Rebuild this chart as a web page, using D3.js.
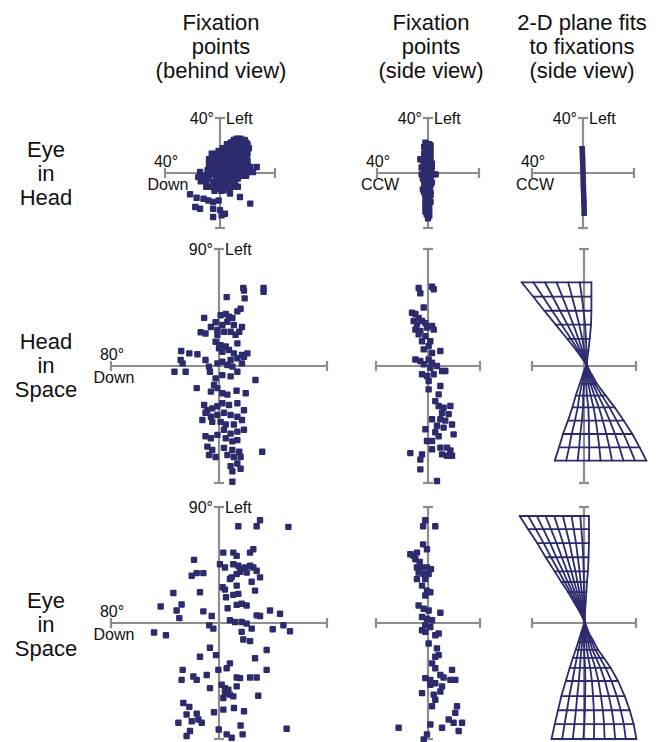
<!DOCTYPE html>
<html>
<head>
<meta charset="utf-8">
<script src="https://cdn.jsdelivr.net/npm/d3@7"></script>
<style>
  html, body { margin: 0; padding: 0; background: #fff; }
  svg { display: block; font-family: "Liberation Sans", Arial, Helvetica, sans-serif; }
</style>
</head>
<body>
<svg id="chart" width="664" height="742"></svg>
<script>
// ---------- titles ----------
const columnTitles = [
  ["Fixation", "points", "(behind view)"],
  ["Fixation", "points", "(side view)"],
  ["2-D plane fits", "to fixations", "(side view)"]
];
const rowTitles = [
  ["Eye", "in", "Head"],
  ["Head", "in", "Space"],
  ["Eye", "in", "Space"]
];

// ---------- axis ranges (deg) ----------
const rowVerticalRange = [40, 90, 90];          // "Left" axis half-range per row
const behindHorizontalRange = [40, 80, 80];     // "Down" axis half-range per row
const sideHorizontalRange = [40, 40, 40];       // torsion (CCW) half-range per row

// ---------- fixation points: [horizontal, vertical] in deg ----------
const eyeHeadBehind = [
  [10,24],[13,24],[17,22.5],[20,21],[16,19],[11,20],[7,19],[5,16.5],[12,16.5],[18,16.5],[8.5,14],
  [-5,11.6],[-1,13],[2.4,14],[6,11.6],[9.7,10.4],[13,11.6],[-7,8],[-3.6,6.8],[1.2,6.8],[5,5.6],
  [9.7,5.6],[14.5,6.8],[18,8],[-2.4,2],[2.4,0.7],[7.3,2],[12,0.7],[15.8,3],[22,4.4],[26.7,4.4],
  [24,0.7],[20.6,0.7],
  [-14.5,0.7],[-15.8,-3],[-12,-5.3],[-8.5,-4],[-5,-6.5],[0,-5.3],[5,-7.8],[9.7,-9],[13,-10],
  [-7.3,-10],[-2.4,-11.4],[2.4,-12.6],
  [-21.8,-15.5],[-17,-18],[-12,-18.7],[-8.5,-20],[-5,-21],[-1,-20],[-18,-24.7],[-14.5,-26],
  [-5,-26],[0,-27],[3.6,-29.6],[-5,-32],[1.2,-30.8],[22,-22.3],[14.5,-17.5],[7.3,-15],
  [-3,10],[0,9],[3,9],[6,8],[9,8],[12,8],[15,9],[-4,4],[-1,4],[2,4],[5,3],[8,4],[11,3],[14,3],
  [17,4],[-5,-1],[-2,-2],[1,-2],[4,-2],[7,-1],[10,-3],[13,-4],[16,-2],[3,-9],[6,-6],[-3,-8],
  [0,-9],[4,12],[7,15],[10,13],[14,14],[3,17],[5,21],[8,22],[12,21],[15,22],[17,19],[11,18],
  [-1,16],[1,11],[19,12],[20,9],[-6,2],[-9,-1],[-11,-3],
  [8,22],[11,22],[14,22],[17,22],[19,22],[2,18],[5,18],[9,18],[13,18],[15,18],[19,18],[21,18],
  [-6,14],[-3,14],[0,14],[5,14],[11,14],[16,14],[20,14],[-8,10],[-5,10],[-1,10],[4,10],[7,10],
  [11,10],[16,10],[19,10],[-8,6],[-6,6],[-1,6],[3,6],[7,6],[12,6],[16,6],[20,6],[-9,2],[-4,2],
  [0,2],[4,2],[9,2],[14,2],[18,2],[-12,-2],[-8,-2],[-3,-2],[2,-2],[6,-2],[11,-2],[14,-2],[19,-2],
  [-14,-6],[-10,-6],[-2,-6],[3,-6],[8,-6],[11,-6],[-10,-10],[-5,-10],[0,-10],[5,-10],[11,-10],
  [-4,-13],[1,-13],[7,-13],[12,25],[15,25],[18,24]
];
const eyeHeadSide = [
  [-2,22],[1,21],[-3,19],[0,18],[2,17],[-1,16],[-3,14],[1,13],[-2,12],[0,11],[2,10],[-4,9],
  [-1,8],[1,7],[-2,6],[0,5],[3,4],[-3,3],[-1,2],[1,1],[-2,0],[4,-1],[6,-1],[-5,-1],[0,-2],
  [-2,-3],[2,-4],[-1,-5],[1,-6],[-3,-7],[0,-8],[2,-9],[-2,-10],[0,-11],[1,-12],[-1,-13],
  [-3,-14],[0,-15],[2,-16],[-1,-17],[1,-18],[-2,-19],[0,-20],[-1,-22],[1,-23],[0,-24],
  [-2,-25],[1,-27],[0,-29],[-1,-30],[1,-31],[0,-33],[-6,10],[-5,4],[-4,-12],
  [2,20],[-2,15],[2,13],[-3,11],[3,7],[-3,5],[2,2],[-4,-4],[3,-7],[-3,-11],[2,-14],[-2,-16],
  [2,-21],[-2,-22],[-2,-28]
];
const headSpaceBehind = [
  [18,60],[18.5,58],[19,52],[33,60],[33,57],[5.7,53],[16,44],[13.6,42],
  [-11,37],[-2.5,33.6],[1.2,39],[5,40],[7.4,38],[9.9,37],[6.2,34],[2.5,31.5],[11,31.5],[17,30],
  [15,26.4],[-13.6,26],[-10,25],[-6,30],[-1.2,27.7],[3.7,26.4],[8.6,26.4],[12.3,24],[-1.2,24],
  [-2.5,18.7],[1.2,16],[5,15],[0,13.6],[7.4,12.3],[2.5,11],[13.6,17.4],[17,8.5],[21,9.7],[11,9.7],
  [-28,11.5],[-22,9.7],[-28.4,4.6],[-27,2],[-33,-4.4],[-24.7,-4.4],[-16,9],[-10,4.6],[-7.4,-0.5],
  [-6.7,-4.4],[-1.2,2],[2.5,3.3],[6.2,0.8],[8.6,4.6],[13.6,6],[9.9,-0.5],[13.6,-4.4],[17,2],
  [18.5,7],[27,-10.8],[8.6,-8],[2.5,-7],[-2.5,-9.5],
  [-16.5,-17],[-3.7,-14.6],[-1.2,-17],[-6,-19.7],[13,-19],[2.5,-21],[6.2,-22],[19.8,-21],
  [-11,-30],[-8.6,-34],[-5,-32.6],[-1.2,-31],[2.5,-28.7],[7.4,-30],[13.6,-28.7],[18.5,-34],
  [-10,-36],[-6,-39],[-1.2,-37.7],[3.7,-36],[8.6,-37.7],[13.6,-39],[-12.3,-41.5],[-5,-43],
  [1.2,-43],[5,-45],[11,-45],[17,-41.5],[18.5,-49],[3.7,-49],[8.6,-52],[13.6,-50.5],[-1.2,-53],
  [-10,-54],[-6,-55.6],[5,-55.6],[9.9,-58],[13.6,-57],[-8.6,-62],[-5,-64.6],[3.7,-63],[9.9,-64.6],
  [15,-66],[-7.4,-68.5],[-2.5,-70],[6.2,-68.5],[11,-70],[16,-70],[13.6,-75],[8.6,-77],[32,-66],
  [9.9,-81],[16,-79],[9.9,-89]
];
const headSpaceSide = [
  [-7.2,60],[-5.9,56],[3.1,61],[4.4,59],[-3.3,45],[-12.3,41],[-9.7,40],[-7.2,37],[-11,34.6],
  [-4.6,34.6],[-8.5,32],[-2,33],[-9.7,28],[-5.9,27],[-0.8,29.5],[3.1,30.8],[4.4,28],[-7.2,24.4],
  [-2,23],[-4.6,19],[1.8,19],[0.5,15.4],[-3.3,12.8],[9.5,11.5],[3.1,10],[-9.7,5],[-5.9,3.8],
  [0.5,5],[3.1,2.6],[-3.3,1.3],[1.8,-1.3],[6.9,0],[10.8,-3.8],[13.3,-3.8],[-4.6,-6.4],[-0.8,-7.7],
  [4.4,-6.4],[0.5,-11.5],[0.5,-18],[9.5,-15.4],[8.2,-21.8],[5.6,-27],[8.2,-30.8],[12,-32],
  [17.2,-30.8],[10.8,-36],[15.9,-37],[3.1,-41],[9.5,-41],[13.3,-42],[18.5,-45],[6.9,-46],
  [12,-47.4],[-2,-48.7],[5.6,-51],[8.2,-54],[19.7,-52.6],[-0.8,-57.7],[3.1,-57.7],[14.6,-62.8],
  [17.2,-65],[18.5,-69],[9.5,-62.8],[-13.6,-67],[-4.6,-68],[-5.9,-72],[3.1,-64],[-5.9,-79.5],
  [6.9,-88.5],[10.8,-68],[14.6,-69]
];
const eyeSpaceBehind = [
  [30.4,79.7],[27.9,75.1],[14.3,75.1],[51.4,74.6],[3.2,54.6],[10.6,54.6],[13.1,52.1],[25.4,57.2],
  [23,54.6],[-18.5,49],[0.7,45.6],[4.4,43.1],[10.6,45.6],[14.3,44.4],[16.8,42.3],[19.3,43.1],
  [23,44.4],[25.4,43.1],[15.6,39.7],[20.5,39.2],[13.1,37.9],[9.4,35.4],[8.1,34.1],[27.9,40.5],
  [30.4,35.4],[-20.2,36.7],[-16.5,38.7],[-11.6,38.7],[13.1,29],[2.7,27.7],[4.4,25.9],[24.2,32],
  [26.7,25.1],[-33.8,23.3],[-14.1,23.8],[14.3,22.6],[10.6,21.8],[5.2,20],[-43.2,12.8],[-27.7,14.4],
  [-31.4,9.7],[-29.4,3.8],[-11.6,9],[13.1,14.1],[16.8,14.9],[20.5,13.6],[6.4,11.5],[27.9,5.9],
  [30.4,5.4],[37.8,9.7],[45.2,7.2],[-5.4,5.4],[-7.2,-1.8],[-4.2,-4.4],[8.1,2.1],[11.9,0.8],
  [16.8,0.8],[20.5,-0.5],[24.2,-4.4],[16.8,-6.9],[39.8,-4.9],[47.7,-1.8],[52.6,-6.4],[-48.1,-7.4],
  [-39.3,-9.5],[18,-12.8],[23,-14.1],[-6.7,-19.2],[-2.2,-24.9],[-14.1,-26.2],[35.3,-21],
  [26.7,-27.4],[8.1,-31.3],[5.7,-35.1],[-0.5,-36.4],[35.3,-36.4],[-26.9,-36.4],[-27.7,-44.1],
  [-19,-41.5],[-16.5,-44.1],[-9.1,-40.3],[13.1,-42.3],[15.6,-42.8],[23,-42.3],[27.9,-42.3],
  [-6.7,-50.5],[2,-47.9],[4.4,-50.5],[6.9,-51.8],[8.1,-55.6],[4.4,-54.4],[3.2,-58.2],[13.1,-49.2],
  [29.1,-56.4],[10.6,-56.9],
  [-26.4,-62.1],[-22,-65.1],[-24,-71],[-16.5,-70.3],[-15.3,-74.9],[-20.2,-76.2],[-30.1,-77.4],
  [-12.8,-77.4],[-21.5,-83.8],[-24,-87.7],[-3.7,-69.2],[3.2,-67.2],[11.1,-65.9],[18.5,-68.5],
  [16,-79.5],[17.5,-86.4],[-0.2,-82.6],[5.7,-86.4],[9.4,-89],[50.1,-82]
];
const eyeSpaceSide = [
  [-2.1,79.7],[-3.8,75.1],[5.6,75.1],[-3.8,61],[-0.8,57.2],[-13.6,53.3],[-11,52.1],[-8.5,54.6],
  [-9.7,49.5],[-6.4,47.4],[-8.5,43.1],[-4.6,43.1],[-0.8,43.1],[2.3,41.8],[-7.2,39.2],[-3.3,37.9],
  [0.5,37.9],[-8.5,34.1],[-2.1,34.1],[-4.6,29],[-0.8,25.1],[1.8,23.8],[-2.1,21.3],[-7.2,13.6],
  [-3.3,11],[0.5,9.7],[9.5,7.9],[-4.6,4.6],[-0.8,3.3],[3.1,2.1],[-2.1,-1.8],[1.8,-3.1],
  [-4.6,-5.6],[-2.1,-6.9],[8.2,-8.2],[5.6,-9.5],[0.5,-15.9],[6.9,-19.7],[8.2,-24.9],[5.6,-26.2],
  [3.1,-31.3],[5.6,-35.1],[18.5,-36.4],[9.5,-40.3],[-2.1,-42.8],[1.8,-44.1],[5.6,-46.7],[12,-42.3],
  [17.2,-44.1],[21,-44.1],[1.8,-47.9],[10.8,-49.2],[9.5,-53.1],[-4.6,-54.4],[4.4,-55.6],[5.6,-59.5],
  [3.1,-64.6],[22.3,-64.6],[21,-69.7],[15.9,-74.9],[19.7,-77.4],[26.2,-77.4],[23.6,-83.8],
  [1.8,-78.7],[10.8,-81.3],[-22.6,-81.3],[-0.8,-86.4],[-3.3,-90.3]
];

// ---------- plane fits: rows of [vertical level, left torsion, right torsion] ----------
const eyeHeadPlane = [[19,-2.2,0.8],[10,-1.8,1.2],[0,-1.5,1.5],[-10,-1.2,1.8],[-20,-0.8,2.2],[-30.5,-0.5,2.5]];
const headSpacePlaneUpper = [
  [64.4,-48,5.7],[53.3,-39,5.7],[42.5,-30.5,5.7],[31.8,-21.8,5.4],[20.8,-12.8,4.4],[12,-5.8,3.4],[1,2,2]
];
const headSpacePlaneLower = [
  [-72.8,-22.5,48],[-62.6,-19.2,42.8],[-52.3,-16.2,37.2],[-42,-12.3,30.5],[-31.8,-8.9,23.6],
  [-22.8,-6.4,16.7],[-13.8,-3.3,10],[-6.2,-0.8,5.7],[1,2,2]
];
const eyeSpacePlaneUpper = [
  [83,-49.5,3.8],[72.8,-43,3.8],[62,-36,3.8],[51,-29.5,3.5],[40,-22.5,3],[31.8,-17.4,2.3],
  [24,-12.3,1.8],[16.4,-7.9,1.3],[8.7,-3.3,0.8],[1,0.5,0.5]
];
const eyeSpacePlaneLower = [
  [-90,-25,40.3],[-78.5,-22.5,38.2],[-67.7,-20,35.2],[-56.7,-17.4,31.3],[-45,-14,26.2],
  [-34.8,-11,20.5],[-27,-8.5,15.2],[-20.8,-6.4,10.8],[-14.4,-4.3,7.5],[-7.9,-2.3,3.8],[1,0.5,0.5]
];

// ---------- layout ----------
const ink = "#2b2b6e";
const axisGrey = "#8d8d8d";
const textColor = "#111";
const svg = d3.select("#chart");

const headerX = [221, 431, 582];
columnTitles.forEach((lines, i) => {
  lines.forEach((t, j) => {
    svg.append("text")
      .attr("x", headerX[i]).attr("y", 30 + 24 * j)
      .attr("text-anchor", "middle")
      .attr("font-size", 22).attr("fill", textColor)
      .text(t);
  });
});

const rowTitleTop = [157, 349, 608];
rowTitles.forEach((lines, i) => {
  lines.forEach((t, j) => {
    svg.append("text")
      .attr("x", 46).attr("y", rowTitleTop[i] + 24 * j)
      .attr("text-anchor", "middle")
      .attr("font-size", 22).attr("fill", textColor)
      .text(t);
  });
});

// panel frames: center, half sizes in px
const rowCenter = [173, 366, 623];
const rowHalfHeight = [55, 117, 116];
const colCenter = [[220, 428, 583], [219, 428, 584], [219, 428, 584]];
const colHalfWidth = [[55, 51, 51], [108, 52, 52], [108, 52, 52]];

const panels = [
  { r: 0, c: 0, kind: "points", data: eyeHeadBehind, top: ["40°", "Left"], side: ["40°", "Down"] },
  { r: 0, c: 1, kind: "points", data: eyeHeadSide, top: ["40°", "Left"], side: ["40°", "CCW"] },
  { r: 0, c: 2, kind: "plane", data: [eyeHeadPlane], cols: [3], top: ["40°", "Left"], side: ["40°", "CCW"] },
  { r: 1, c: 0, kind: "points", data: headSpaceBehind, top: ["90°", "Left"], side: ["80°", "Down"] },
  { r: 1, c: 1, kind: "points", data: headSpaceSide },
  { r: 1, c: 2, kind: "plane", data: [headSpacePlaneUpper, headSpacePlaneLower], cols: [6, 8] },
  { r: 2, c: 0, kind: "points", data: eyeSpaceBehind, top: ["90°", "Left"], side: ["80°", "Down"] },
  { r: 2, c: 1, kind: "points", data: eyeSpaceSide },
  { r: 2, c: 2, kind: "plane", data: [eyeSpacePlaneUpper, eyeSpacePlaneLower], cols: [8, 8] }
];

const cap = 5;

panels.forEach(p => {
  const cx = colCenter[p.r][p.c], cy = rowCenter[p.r];
  const hw = colHalfWidth[p.r][p.c], hh = rowHalfHeight[p.r];
  const xr = p.c === 0 ? behindHorizontalRange[p.r] : sideHorizontalRange[p.r];
  const yr = rowVerticalRange[p.r];
  const x = d3.scaleLinear().domain([-xr, xr]).range([cx - hw, cx + hw]);
  const y = d3.scaleLinear().domain([-yr, yr]).range([cy + hh, cy - hh]);

  const g = svg.append("g");
  const ax = g.append("g").attr("stroke", axisGrey).attr("stroke-width", 2.2).attr("fill", "none");
  // axes with end caps
  ax.append("line").attr("x1", x(-xr)).attr("x2", x(xr)).attr("y1", y(0)).attr("y2", y(0));
  ax.append("line").attr("x1", x(0)).attr("x2", x(0)).attr("y1", y(-yr)).attr("y2", y(yr));
  [-xr, xr].forEach(v => ax.append("line").attr("x1", x(v)).attr("x2", x(v)).attr("y1", y(0) - cap).attr("y2", y(0) + cap));
  [-yr, yr].forEach(v => ax.append("line").attr("x1", x(0) - cap).attr("x2", x(0) + cap).attr("y1", y(v)).attr("y2", y(v)));

  if (p.top) {
    g.append("text").attr("x", x(0) - 6).attr("y", y(yr) + 6).attr("text-anchor", "end")
      .attr("font-size", 16).attr("fill", textColor).text(p.top[0]);
    g.append("text").attr("x", x(0) + 6).attr("y", y(yr) + 6).attr("text-anchor", "start")
      .attr("font-size", 16).attr("fill", textColor).text(p.top[1]);
  }
  if (p.side) {
    g.append("text").attr("x", x(-xr) + 1).attr("y", y(0) - 6).attr("text-anchor", "middle")
      .attr("font-size", 16).attr("fill", textColor).text(p.side[0]);
    g.append("text").attr("x", x(-xr) + 3).attr("y", y(0) + 17).attr("text-anchor", "middle")
      .attr("font-size", 16).attr("fill", textColor).text(p.side[1]);
  }

  if (p.kind === "points") {
    const s = 6.4;
    g.append("g").selectAll("rect").data(p.data).join("rect")
      .attr("x", d => x(d[0]) - s / 2).attr("y", d => y(d[1]) - s / 2)
      .attr("width", s).attr("height", s)
      .attr("rx", 1)
      .attr("fill", ink);
  } else {
    const line = d3.line().x(d => x(d[0])).y(d => y(d[1]));
    const mg = g.append("g").attr("fill", "none").attr("stroke", ink)
      .attr("stroke-width", 1.8).attr("stroke-linejoin", "round").attr("stroke-linecap", "round");
    p.data.forEach((rows, k) => {
      const n = p.cols[k];
      // horizontal grid rows
      rows.forEach(rw => {
        if (rw[2] - rw[1] > 0.01) mg.append("path").attr("d", line([[rw[1], rw[0]], [rw[2], rw[0]]]));
      });
      // grid columns joining evenly divided row positions
      for (let i = 0; i <= n; i++) {
        const pts = rows.map(rw => [rw[1] + (rw[2] - rw[1]) * i / n, rw[0]]);
        mg.append("path").attr("d", line(pts));
      }
    });
  }
});
</script>
</body>
</html>
